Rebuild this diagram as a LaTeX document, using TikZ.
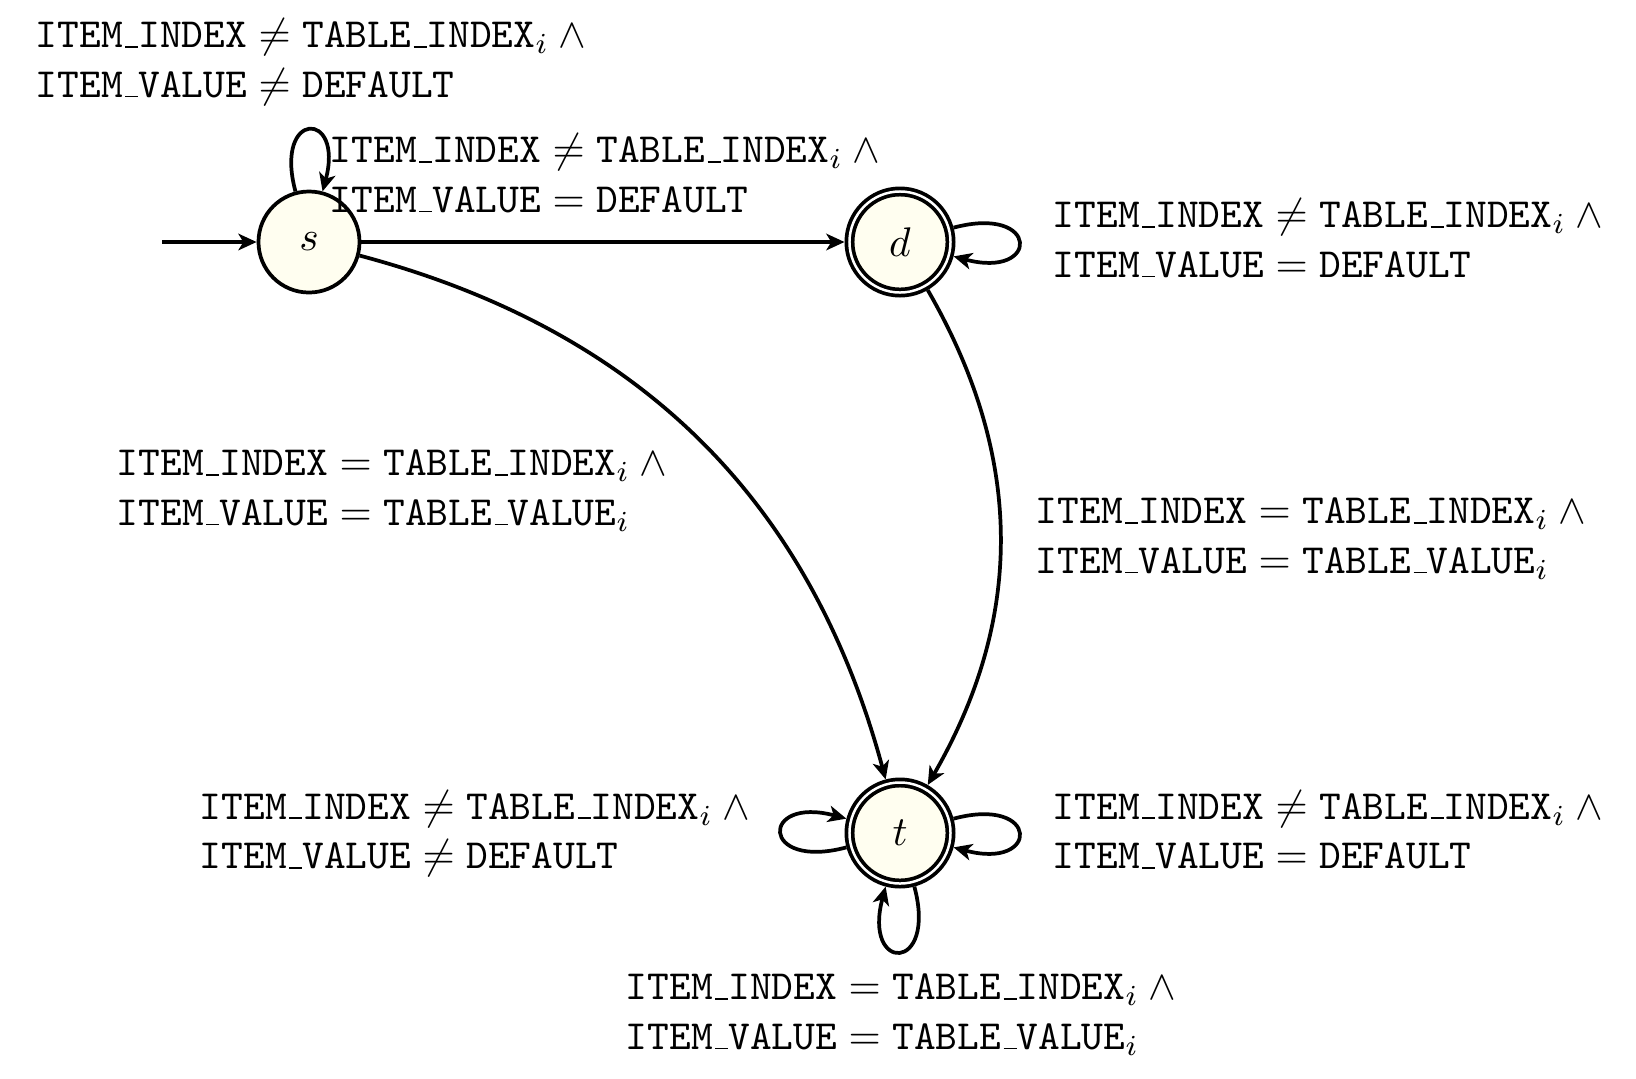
\documentclass[tikz,border=0pt]{standalone}
\usetikzlibrary{arrows.meta}
\newcommand\usc{\leavevmode\kern0.63pt\vbox{\hrule width 3.15pt}}
\newcommand\iidx{\texttt{ITEM\usc INDEX}}
\newcommand\ival{\texttt{ITEM\usc VALUE}}
\newcommand\tidx{\texttt{TABLE\usc INDEX}}
\newcommand\tval{\texttt{TABLE\usc VALUE}}
\newcommand\dflt{\texttt{DEFAULT}}
\begin{document}
\begin{tikzpicture}[x=0.2415pt,y=0.2415pt,
  >={Stealth[length=4.4pt,width=4pt,inset=1.2pt]},
  every loop/.style={min distance=20pt,looseness=8},
  stt/.style={circle,draw,line width=0.9pt,fill=yellow!6,minimum size=24.4pt,inner sep=0pt},
  acc/.style={stt,double,double distance=0.6pt,outer sep=1.2pt},
  lbl/.style={anchor=north west,inner sep=0pt,align=left},
  conn/.style={->,line width=0.9pt}]
\useasboundingbox (0,0) rectangle (1636,1078);
\node[stt] (s) at (309,836) {$s$};
\node[acc] (d) at (900,836) {$d$};
\node[acc] (t) at (900,245) {$t$};
\coordinate (init) at (162,836);
\draw[conn] (init) -- (s);
\draw[conn] (s) -- (d);
\draw[conn] (s) to[bend left] (t);
\draw[conn] (d) to[bend left] (t);
\draw[conn] (s) edge[loop above] (s);
\draw[conn] (d) edge[loop right] (d);
\draw[conn] (t) edge[loop left] (t);
\draw[conn] (t) edge[loop right] (t);
\draw[conn] (t) edge[loop below] (t);
\node[lbl] (la) at (35,1066) {\strut$\iidx\neq\tidx_i\wedge{}$\\$\ival\neq\dflt$};
\node[lbl] (lb) at (329,951) {\strut$\iidx\neq\tidx_i\wedge{}$\\$\ival=\dflt$};
\node[lbl] (lc) at (1052,886) {\strut$\iidx\neq\tidx_i\wedge{}$\\$\ival=\dflt$};
\node[lbl] (ld) at (116,638) {\strut$\iidx=\tidx_i\wedge{}$\\$\ival=\tval_i$};
\node[lbl] (le) at (1035,590) {\strut$\iidx=\tidx_i\wedge{}$\\$\ival=\tval_i$};
\node[lbl] (lf) at (199,294.5) {\strut$\iidx\neq\tidx_i\wedge{}$\\$\ival\neq\dflt$};
\node[lbl] (lg) at (1052,294.5) {\strut$\iidx\neq\tidx_i\wedge{}$\\$\ival=\dflt$};
\node[lbl] (lh) at (625,114) {\strut$\iidx=\tidx_i\wedge{}$\\$\ival=\tval_i$};
\end{tikzpicture}
\end{document}
